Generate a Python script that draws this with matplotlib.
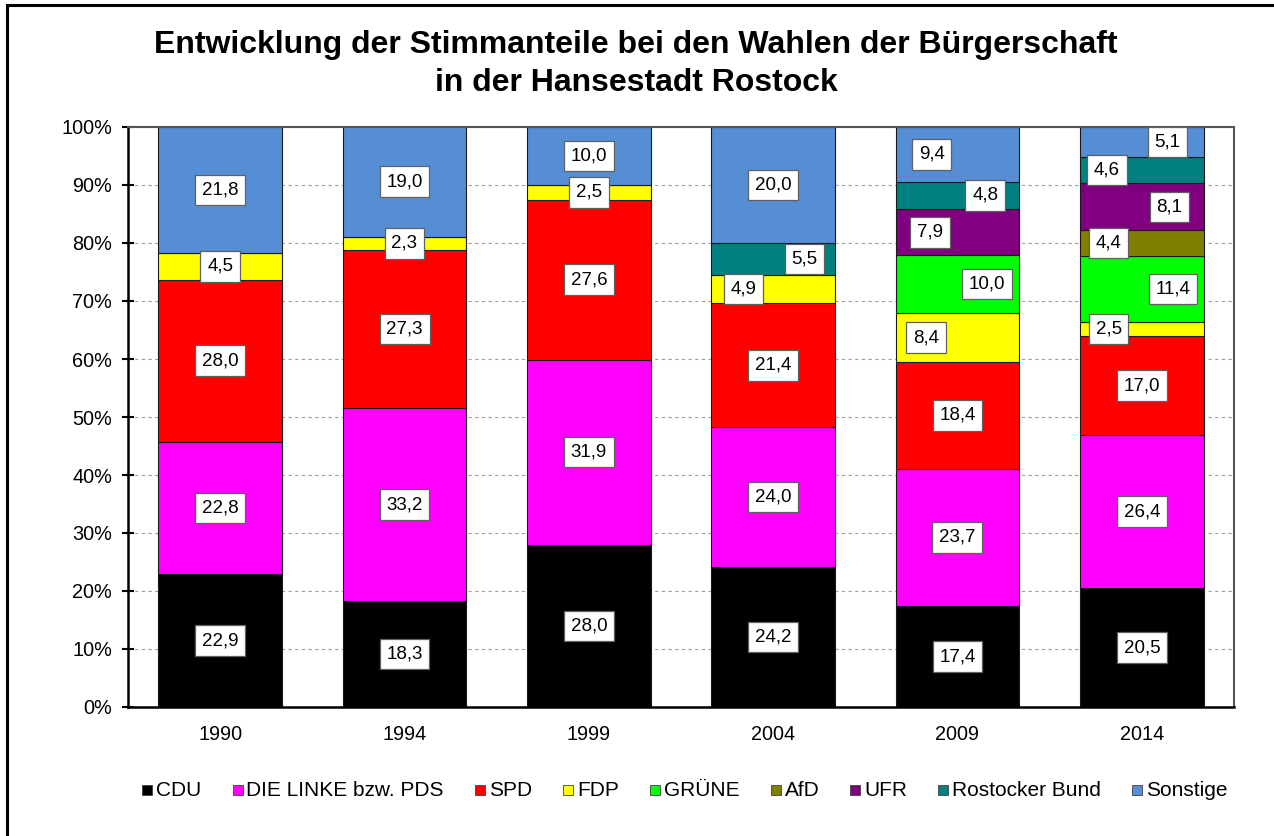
import matplotlib
matplotlib.use("Agg")
import matplotlib.pyplot as plt
import numpy as np
from matplotlib.patches import Rectangle

plt.rcParams['font.family'] = ['Liberation Sans', 'DejaVu Sans']

years = ["1990", "1994", "1999", "2004", "2009", "2014"]
parties = ["CDU", "DIE LINKE bzw. PDS", "SPD", "FDP", "GRÜNE", "AfD", "UFR",
           "Rostocker Bund", "Sonstige"]
cdu = [22.9, 18.3, 28.0, 24.2, 17.4, 20.5]
linke = [22.8, 33.2, 31.9, 24.0, 23.7, 26.4]
spd = [28.0, 27.3, 27.6, 21.4, 18.4, 17.0]
fdp = [4.5, 2.3, 2.5, 4.9, 8.4, 2.5]
gruene = [0, 0, 0, 0, 10.0, 11.4]
afd = [0, 0, 0, 0, 0, 4.4]
ufr = [0, 0, 0, 0, 7.9, 8.1]
rostocker_bund = [0, 0, 0, 5.5, 4.8, 4.6]
sonstige = [21.8, 19.0, 10.0, 20.0, 9.4, 5.1]
series = [cdu, linke, spd, fdp, gruene, afd, ufr, rostocker_bund, sonstige]

colors = ["#000000", "#FF00FF", "#FF0000", "#FFFF00", "#00FF00", "#808000",
          "#800080", "#008080", "#558ED5"]

# horizontal label offsets (fraction of category spacing), styling only
label_dx = {
    (3, 3): -0.16, (7, 3): 0.17,
    (8, 4): -0.14, (7, 4): 0.15, (6, 4): -0.15, (4, 4): 0.16, (3, 4): -0.17,
    (8, 5): 0.14, (7, 5): -0.19, (6, 5): 0.15, (5, 5): -0.18, (4, 5): 0.17, (3, 5): -0.18,
}

W, H = 1274, 836
fig = plt.figure(figsize=(W / 100, H / 100), dpi=100)
ax = fig.add_axes([128 / W, 1 - 707 / H, (1234 - 128) / W, (707 - 127) / H])

x = np.arange(len(years))
bottom = np.zeros(len(years))
for si, (vals, col, name) in enumerate(zip(series, colors, parties)):
    vals = np.array(vals, dtype=float)
    for i, v in enumerate(vals):
        if v > 0:
            ax.bar(x[i], v, bottom=bottom[i], width=0.67, color=col,
                   edgecolor="#1a1a1a", linewidth=0.8, zorder=2)
            dx = label_dx.get((si, i), 0.0)
            ax.text(x[i] + dx, bottom[i] + v / 2, f"{v:.1f}".replace(".", ","),
                    ha="center", va="center", fontsize=13.5, color="black", zorder=4,
                    bbox=dict(boxstyle="square,pad=0.36", facecolor="white",
                              edgecolor="#606060", linewidth=0.9))
    bottom += vals

ax.set_xlim(-0.5, len(years) - 0.5)
ax.set_ylim(0, 100)
ax.set_yticks(np.arange(0, 101, 10))
ax.set_yticklabels([f"{t}%" for t in range(0, 101, 10)], fontsize=14.3)
ax.set_xticks(x)
ax.set_xticklabels(years, fontsize=14.3)
ax.tick_params(axis="x", length=0, pad=13)
ax.tick_params(axis="y", direction="inout", length=9, width=1.5, pad=7)
ax.yaxis.grid(True, linestyle=(0, (3, 3)), color="#a0a0a0", linewidth=0.8, zorder=0)
ax.set_axisbelow(True)
for s in ["left", "bottom"]:
    ax.spines[s].set_linewidth(1.8)
    ax.spines[s].set_color("black")
for s in ["top", "right"]:
    ax.spines[s].set_linewidth(1.5)
    ax.spines[s].set_color("#555555")

fig.text(636 / W, 1 - 45 / H, "Entwicklung der Stimmanteile bei den Wahlen der Bürgerschaft",
         ha="center", va="center", fontsize=23, fontweight="bold")
fig.text(636 / W, 1 - 83 / H, "in der Hansestadt Rostock",
         ha="center", va="center", fontsize=23, fontweight="bold")

# manual legend, laid out in one row, centred
renderer = fig.canvas.get_renderer()
leg_fs = 15
leg_y = 790
sq = 10
gap_marker = 4
gap_entry = 31
texts = []
widths = []
for name in parties:
    t = fig.text(0, 1 - leg_y / H, name, fontsize=leg_fs, ha="left", va="center")
    texts.append(t)
    widths.append(t.get_window_extent(renderer).width)
total = sum(sq + gap_marker + w for w in widths) + gap_entry * (len(parties) - 1)
cur = 685 - total / 2
for t, w, col in zip(texts, widths, colors):
    fig.patches.append(Rectangle((cur / W, 1 - (leg_y + sq / 2) / H), sq / W, sq / H,
                                 transform=fig.transFigure, facecolor=col,
                                 edgecolor="#404040", linewidth=0.6))
    t.set_x((cur + sq + gap_marker) / W)
    cur += sq + gap_marker + w + gap_entry

fig.patches.append(Rectangle((7 / W, -0.1), 1.2, 1 - 5 / H + 0.1, transform=fig.transFigure,
                             fill=False, edgecolor="black", linewidth=2.2, zorder=10))

fig.savefig("out.png", dpi=100)
